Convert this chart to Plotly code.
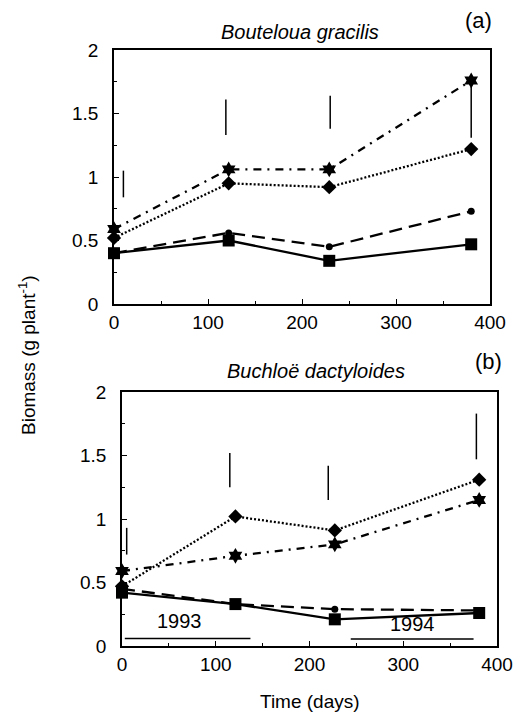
import plotly.graph_objects as go

# ---------------- data ----------------
days_a = [0, 122, 229, 380]
sq_a = [0.40, 0.50, 0.34, 0.47]
ci_a = [0.40, 0.56, 0.45, 0.73]
di_a = [0.52, 0.95, 0.92, 1.22]
st_a = [0.59, 1.06, 1.06, 1.76]
lsd_x_a = [10, 119, 230, 380]
lsd_lo_a = [0.84, 1.33, 1.38, 1.31]
lsd_hi_a = [1.05, 1.61, 1.64, 1.71]

days_b = [0, 121, 227, 381]
sq_b = [0.42, 0.33, 0.21, 0.26]
ci_b = [0.45, 0.33, 0.29, 0.28]
di_b = [0.47, 1.02, 0.91, 1.31]
st_b = [0.59, 0.71, 0.80, 1.15]
lsd_x_b = [5, 115, 220, 378]
lsd_lo_b = [0.72, 1.25, 1.15, 1.47]
lsd_hi_b = [0.93, 1.52, 1.42, 1.83]

year_labels = ["1993", "1994"]
year_start = [3, 244]
year_end = [137, 375]
year_line_y = [0.06, 0.055]
year_text_x = [61, 310]
year_text_y = [0.20, 0.17]

x_ticks = [0, 100, 200, 300, 400]
y_ticks = [0, 0.5, 1, 1.5, 2]
y_tick_text = ["0", "0.5", "1", "1.5", "2"]

FONT = "Liberation Sans, Arial, sans-serif"

fig = go.Figure()

series_styles = [
    ("square", 12, "solid"),
    ("circle", 7, "13px,7px"),
    ("diamond", 11, "2px,2px"),
    ("hexagram", 12, "8px,6px,2px,6px"),
]


def add_panel(days, vals, lsd_x, lsd_lo, lsd_hi, xa, ya):
    for (sym, size, dash), v in zip(series_styles, vals):
        fig.add_trace(go.Scatter(
            x=days, y=v, mode="lines+markers", xaxis=xa, yaxis=ya,
            line=dict(color="black", width=2.3, dash=dash),
            marker=dict(symbol=sym, size=size, color="black"),
            cliponaxis=False, showlegend=False, hoverinfo="skip"))
    bx, by = [], []
    for x, lo, hi in zip(lsd_x, lsd_lo, lsd_hi):
        bx += [x, x, None]
        by += [lo, hi, None]
    fig.add_trace(go.Scatter(x=bx, y=by, mode="lines", xaxis=xa, yaxis=ya,
                             line=dict(color="black", width=1.5),
                             showlegend=False, hoverinfo="skip"))


add_panel(days_a, [sq_a, ci_a, di_a, st_a], lsd_x_a, lsd_lo_a, lsd_hi_a, "x", "y")
add_panel(days_b, [sq_b, ci_b, di_b, st_b], lsd_x_b, lsd_lo_b, lsd_hi_b, "x2", "y2")

# year bars (bottom panel)
yx, yy = [], []
for s, e, ly in zip(year_start, year_end, year_line_y):
    yx += [s, e, None]
    yy += [ly, ly, None]
fig.add_trace(go.Scatter(x=yx, y=yy, mode="lines", xaxis="x2", yaxis="y2",
                         line=dict(color="black", width=1.5),
                         showlegend=False, hoverinfo="skip"))

annotations = []
for lab, tx, ty in zip(year_labels, year_text_x, year_text_y):
    annotations.append(dict(x=tx, y=ty, xref="x2", yref="y2", text=lab,
                            xanchor="center", yanchor="middle",
                            showarrow=False, font=dict(size=20, family=FONT, color="black")))

W, H = 516, 712


def px(v):
    return v / W


def py(v):
    return 1 - v / H


def label(x, y, text, size, angle=0):
    return dict(x=px(x), y=py(y), xref="paper", yref="paper", text=text,
                xanchor="center", yanchor="middle", textangle=angle,
                showarrow=False, font=dict(size=size, family=FONT, color="black"))


annotations += [
    label(300, 32, "<i>Bouteloua gracilis</i>", 20),
    label(478, 21, "(a)", 22),
    label(316, 371, "<i>Buchloë dactyloides</i>", 20),
    label(488, 361, "(b)", 22),
    label(27, 355, "Biomass (g plant<sup>-1</sup>)", 19, -90),
    label(310, 701, "Time (days)", 19),
]

axis_common = dict(showgrid=False, zeroline=False, showline=True, linecolor="black",
                   linewidth=1.5, mirror=True, ticks="inside", ticklen=5, tickwidth=1.2,
                   automargin=False,
                   tickcolor="black", tickfont=dict(size=19, family=FONT, color="black"))

xaxis_common = dict(axis_common, range=[0, 400], tickvals=x_ticks,
                    minor=dict(ticks="inside", ticklen=3, dtick=50, tickcolor="black", tickwidth=1))
yaxis_common = dict(axis_common, range=[0, 2], tickvals=y_ticks, ticktext=y_tick_text,
                    ticklabelstandoff=10,
                    minor=dict(ticks="inside", ticklen=3, dtick=0.25, tickcolor="black", tickwidth=1))

fig.update_layout(
    width=W, height=H,
    margin=dict(l=0, r=0, t=0, b=0, autoexpand=False),
    paper_bgcolor="white", plot_bgcolor="white",
    xaxis=dict(xaxis_common, domain=[px(114), px(490)], anchor="y"),
    yaxis=dict(yaxis_common, domain=[py(304), py(50)], anchor="x"),
    xaxis2=dict(xaxis_common, domain=[px(122), px(497)], anchor="y2"),
    yaxis2=dict(yaxis_common, domain=[py(646), py(392)], anchor="x2"),
    annotations=annotations,
    showlegend=False,
)

fig.write_html("out.html", config={"displayModeBar": False},
               post_script="document.body.style.margin='0';document.body.style.overflow='hidden';")
